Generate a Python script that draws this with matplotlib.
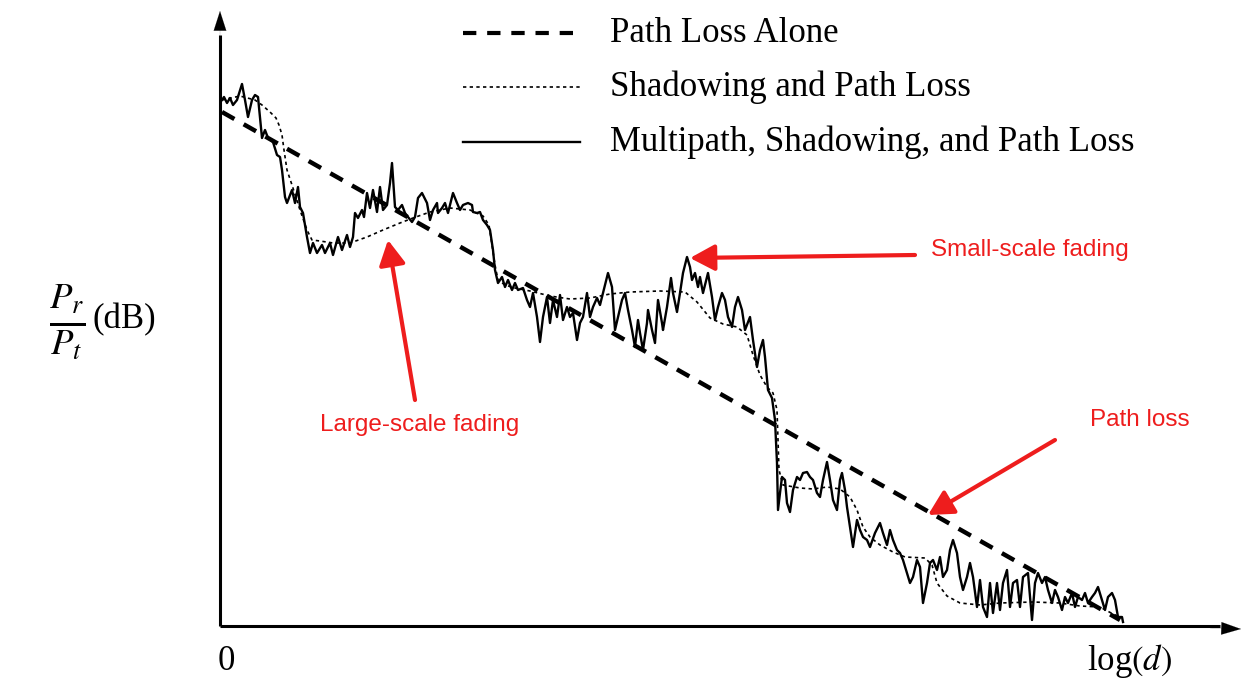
import matplotlib
matplotlib.use("Agg")
import matplotlib.pyplot as plt
from matplotlib.patches import FancyArrowPatch
import numpy as np

# ---- data (x: log(d) units, y: Pr/Pt in arbitrary dB units) ----
multipath_x = [2, 4, 7, 10, 13, 17, 22, 25, 28, 32, 35, 38, 42, 45, 48, 53, 57, 60, 62, 65,
               67, 72, 75, 78, 80, 83, 87, 90, 93, 97, 102, 105, 110, 113, 118, 122, 127, 130, 133, 135,
               138, 142, 144, 147, 150, 153, 157, 160, 163, 167, 170, 172, 175, 178, 182, 185, 188, 192, 195, 198,
               202, 207, 210, 213, 217, 218, 222, 225, 228, 233, 237, 240, 243, 248, 252, 253, 257, 260, 263, 267,
               270, 273, 275, 278, 282, 285, 288, 292, 295, 298, 303, 307, 310, 313, 317, 320, 323, 327, 330, 333,
               337, 340, 343, 347, 350, 353, 357, 360, 363, 367, 370, 373, 377, 380, 383, 388, 392, 395, 398, 402,
               405, 408, 412, 415, 418, 420, 423, 427, 428, 432, 435, 438, 442, 443, 447, 451, 453, 457, 460, 463,
               467, 470, 472, 475, 478, 480, 483, 488, 492, 495, 498, 502, 505, 508, 512, 515, 518, 522, 525, 530,
               533, 537, 540, 543, 545, 548, 552, 555, 557, 558, 560, 562, 565, 567, 570, 573, 577, 580, 583, 587,
               590, 593, 597, 600, 603, 607, 610, 613, 617, 620, 622, 625, 627, 630, 633, 637, 640, 643, 647, 650,
               655, 660, 663, 667, 670, 673, 677, 680, 683, 687, 690, 693, 697, 700, 703, 707, 710, 713, 717, 720,
               723, 727, 730, 733, 737, 740, 743, 747, 750, 753, 757, 760, 763, 767, 770, 773, 777, 780, 783, 787,
               790, 793, 797, 800, 803, 808, 812, 815, 818, 822, 825, 828, 832, 835, 838, 842, 845, 848, 852, 855,
               858, 862, 865, 868, 872, 875, 878, 882, 885, 888, 892, 895, 898, 902, 903]
multipath_y = [525, 528, 522, 527, 520, 525, 541, 525, 508, 525, 530, 528, 487, 495, 487, 483, 470, 468, 455, 428,
               422, 435, 422, 438, 418, 412, 388, 372, 382, 372, 380, 372, 382, 370, 388, 375, 390, 378, 388, 412,
               407, 415, 408, 432, 417, 435, 413, 438, 415, 420, 442, 462, 418, 415, 420, 412, 408, 403, 408, 427,
               432, 422, 405, 415, 422, 412, 417, 422, 412, 432, 422, 415, 420, 422, 420, 413, 412, 413, 405, 400,
               395, 375, 355, 342, 348, 338, 345, 335, 342, 335, 337, 325, 318, 332, 308, 283, 308, 328, 302, 325,
               308, 330, 305, 318, 308, 312, 285, 302, 308, 332, 308, 318, 327, 320, 332, 352, 338, 295, 308, 325,
               332, 315, 295, 278, 305, 292, 275, 302, 315, 295, 282, 325, 302, 295, 318, 347, 332, 313, 332, 352,
               368, 358, 345, 352, 338, 348, 332, 352, 328, 305, 318, 332, 325, 308, 298, 318, 328, 315, 295, 308,
               285, 258, 275, 285, 268, 235, 227, 205, 162, 115, 132, 148, 145, 122, 113, 135, 148, 145, 152, 153,
               148, 145, 132, 128, 145, 163, 145, 125, 115, 145, 152, 135, 118, 98, 78, 105, 95, 88, 85, 78,
               92, 102, 92, 80, 95, 85, 75, 72, 65, 52, 42, 48, 65, 58, 22, 42, 62, 65, 55, 68,
               48, 55, 75, 85, 72, 48, 35, 48, 62, 48, 18, 45, 18, 8, 42, 12, 42, 15, 42, 55,
               18, 42, 45, 18, 48, 52, 5, 42, 52, 42, 48, 35, 22, 35, 28, 15, 28, 22, 32, 18,
               28, 25, 32, 22, 28, 32, 38, 25, 15, 28, 32, 25, 8, 8, 3]

shadow_x = [2, 20, 35, 42, 50, 56, 59, 62, 64, 67, 72, 80, 87, 92, 100, 113, 130, 147, 163, 180,
            193, 210, 230, 250, 263, 269, 272, 275, 278, 285, 295, 310, 330, 350, 370, 390, 410, 440, 465, 477,
            490, 503, 517, 527, 533, 540, 547, 553, 557, 558, 559, 563, 580, 593, 607, 620, 630, 637, 643, 650,
            660, 673, 685, 705, 712, 717, 727, 740, 760, 780, 813, 840, 860, 880, 893, 900]
shadow_y = [525, 529, 525, 520, 513, 507, 500, 490, 475, 455, 440, 415, 395, 385, 384, 382, 382, 388, 395, 402,
            407, 413, 417, 415, 409, 400, 380, 360, 345, 340, 337, 334, 329, 326, 327, 331, 333, 334, 333, 323,
            307, 301, 298, 290, 270, 250, 238, 232, 215, 185, 155, 140, 137, 136, 138, 136, 128, 115, 98, 88,
            80, 73, 68, 67, 60, 42, 29, 22, 20, 22, 23, 22, 19, 18, 11, 8]

pathloss_x = [2, 900]
pathloss_y = [513, 5]

legend_labels = ["Path Loss Alone", "Shadowing and Path Loss",
                 "Multipath, Shadowing, and Path Loss"]
annotations = ["Small-scale fading", "Large-scale fading", "Path loss"]

# ---- figure ----
plt.rcParams['mathtext.fontset'] = 'stix'
fig = plt.figure(figsize=(12.47, 6.79), dpi=100)
ax = fig.add_axes([0, 0, 1, 1])
ax.set_xlim(-220, 1027)
ax.set_ylim(-54, 625)
ax.axis('off')

serif = 'Liberation Serif'
sans = 'Liberation Sans'
red = '#ee1d1d'

# axes with arrows
ax.plot([0, 0], [-1, 590], color='black', lw=2.2, solid_capstyle='butt')
ax.plot([0, 1000], [-1, -1], color='black', lw=2.2, solid_capstyle='butt')
ax.annotate('', xy=(0, 614), xytext=(0, 585),
            arrowprops=dict(arrowstyle='-|>,head_length=1.4,head_width=0.45', color='black', lw=0.1, shrinkA=0, shrinkB=0))
ax.annotate('', xy=(1021, -4), xytext=(990, -3),
            arrowprops=dict(arrowstyle='-|>,head_length=1.4,head_width=0.45', color='black', lw=0.1, shrinkA=0, shrinkB=0))

# curves
ax.plot(shadow_x, shadow_y, color='black', lw=1.2, dashes=(2.0, 2.0))
ax.plot(multipath_x, multipath_y, color='black', lw=1.7)
ax.plot(pathloss_x, pathloss_y, color='black', lw=3.2, dashes=(3.2, 2.4))

# legend (drawn manually)
leg_y = [592, 538, 483]
ax.plot([243, 360], [leg_y[0]] * 2, color='black', lw=3.0, dashes=(3.2, 2.6))
ax.plot([243, 360], [leg_y[1]] * 2, color='black', lw=1.2, dashes=(2.0, 2.0))
ax.plot([243, 360], [leg_y[2]] * 2, color='black', lw=1.7)
for yy, lab in zip(leg_y, legend_labels):
    ax.text(390, yy, lab, family=serif, fontsize=25, va='center', ha='left')

# axis labels
ax.text(6, -36, '0', family=serif, fontsize=25, ha='center', va='center')
ax.text(910, -36, r'log$(d)$', family=serif, fontsize=25, ha='center', va='center')
ax.text(-153, 303, r'$\frac{P_r}{P_t}$', fontsize=38, ha='center', va='center')
ax.text(-96, 305, '(dB)', family=serif, fontsize=25, ha='center', va='center')

# red annotations
def red_arrow(start, end):
    ax.add_patch(FancyArrowPatch(start, end, arrowstyle='-|>,head_length=15,head_width=8',
                                 color=red, lw=3, mutation_scale=1, shrinkA=0, shrinkB=0))

ax.text(810, 375, annotations[0], family=sans, fontsize=17.5, color=red, ha='center', va='center')
red_arrow((695, 370), (470, 367))
ax.text(200, 200, annotations[1], family=sans, fontsize=17.5, color=red, ha='center', va='center')
red_arrow((195, 225), (168, 385))
ax.text(920, 205, annotations[2], family=sans, fontsize=17.5, color=red, ha='center', va='center')
red_arrow((835, 185), (708, 110))

fig.savefig('out.png', dpi=100)
